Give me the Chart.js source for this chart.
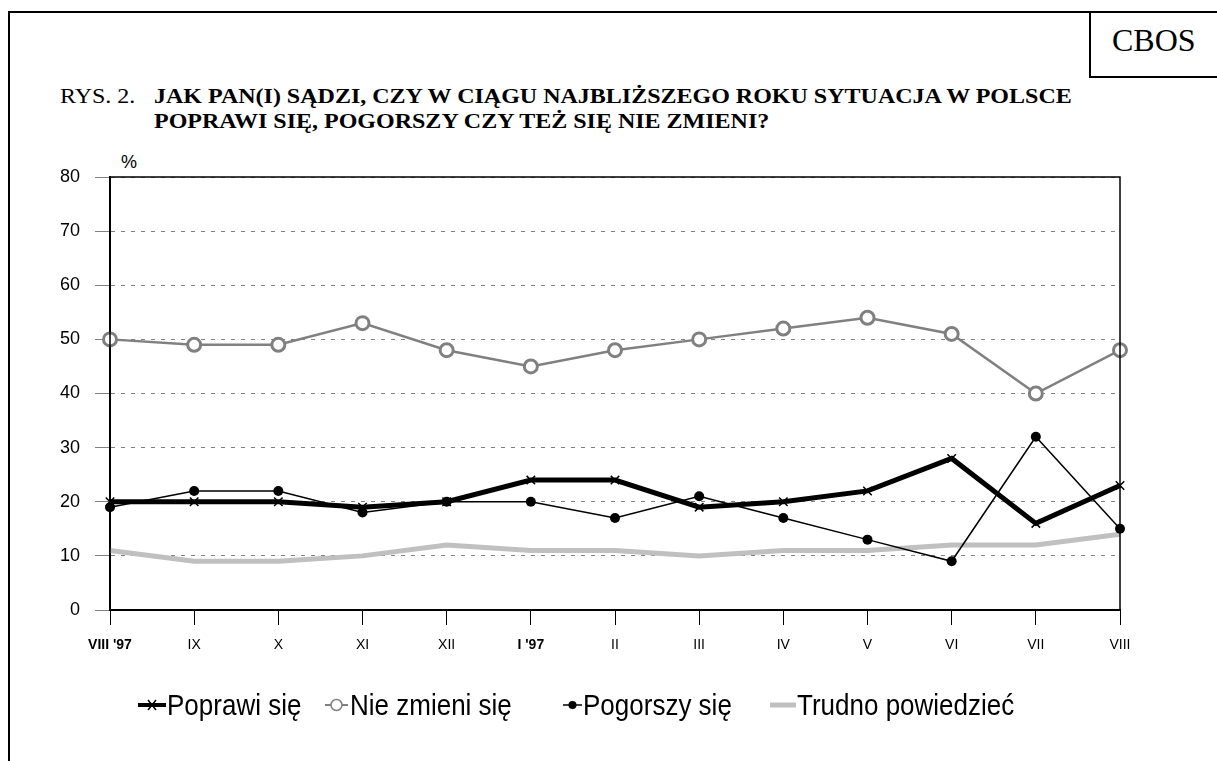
<!DOCTYPE html>
<html><head><meta charset="utf-8">
<script src="https://cdn.jsdelivr.net/npm/chart.js@4.4.1/dist/chart.umd.min.js"></script>
<style>
html,body{margin:0;padding:0;background:#fff;}
#wrap{position:relative;width:1217px;height:761px;overflow:hidden;}
#frameTop{position:absolute;left:8px;top:11px;width:1215px;height:2px;background:#000;}
#frameLeft{position:absolute;left:8px;top:11px;width:2px;height:760px;background:#000;}
#cbos{position:absolute;left:1089px;top:11px;width:140px;height:65px;border-left:2px solid #000;border-bottom:2px solid #000;}
#cbosTxt{position:absolute;left:1112px;top:24px;font-family:"Liberation Serif","Times New Roman",serif;font-size:32px;line-height:32px;color:#000;}
.title{position:absolute;font-family:"Liberation Serif","Times New Roman",serif;font-size:24px;line-height:30px;color:#000;white-space:nowrap;transform-origin:left top;transform:scaleY(0.85);}
.title b{font-weight:bold;}
#pct{position:absolute;left:121px;top:153px;font-family:"Liberation Sans",Arial,sans-serif;font-size:18px;line-height:18px;}
canvas{position:absolute;left:0;top:0;}
.leg{position:absolute;top:691px;height:30px;font-family:"Liberation Sans",Arial,sans-serif;font-size:26px;line-height:26px;white-space:nowrap;}
.leg svg{position:absolute;left:0;top:2px;}
.leg span{display:inline-block;transform-origin:left top;transform:scaleY(1.1);}
</style></head>
<body><div id="wrap">
<div id="frameTop"></div><div id="frameLeft"></div>
<div id="cbos"></div><div id="cbosTxt">CBOS</div>
<div class="title" style="left:60px;top:83px">RYS. 2.</div>
<div class="title" style="left:154px;top:83px"><b>JAK PAN(I) SĄDZI, CZY W CIĄGU NAJBLIŻSZEGO ROKU SYTUACJA W POLSCE<br>POPRAWI SIĘ, POGORSZY CZY TEŻ SIĘ NIE ZMIENI?</b></div>
<div id="pct">%</div>
<canvas id="c" width="1217" height="761"></canvas>
<div class="leg" style="left:138px"><svg width="28" height="24"><line x1="0" y1="12" x2="28" y2="12" stroke="#000" stroke-width="4"/><path d="M10 7 L18 17 M18 7 L10 17" stroke="#000" stroke-width="1.5"/></svg><span style="margin-left:29px">Poprawi się</span></div>
<div class="leg" style="left:325px"><svg width="23" height="24"><line x1="0" y1="12" x2="23" y2="12" stroke="#808080" stroke-width="2"/><circle cx="11.5" cy="12" r="5.5" fill="#fff" stroke="#808080" stroke-width="1.5"/></svg><span style="margin-left:25px">Nie zmieni się</span></div>
<div class="leg" style="left:563px"><svg width="19" height="24"><line x1="0" y1="12" x2="19" y2="12" stroke="#000" stroke-width="1.5"/><circle cx="9.5" cy="12" r="4" fill="#000"/></svg><span style="margin-left:20px">Pogorszy się</span></div>
<div class="leg" style="left:770px"><svg width="26" height="24"><line x1="0" y1="12" x2="26" y2="12" stroke="#c0c0c0" stroke-width="5"/></svg><span style="margin-left:27px">Trudno powiedzieć</span></div>
</div>
<script>
const categories = ["VIII '97","IX","X","XI","XII","I '97","II","III","IV","V","VI","VII","VIII"];
const boldLabels = ["VIII '97","I '97"];
const poprawi = [20,20,20,19,20,24,24,19,20,22,28,16,23];
const nieZmieni = [50,49,49,53,48,45,48,50,52,54,51,40,48];
const pogorszy = [19,22,22,18,20,20,17,21,17,13,9,32,15];
const trudno = [11,9,9,10,12,11,11,10,11,11,12,12,14];
const yTicks = [0,10,20,30,40,50,60,70,80];

const boxPlugin = {
  id:'box',
  afterDraw(chart){
    const a = chart.chartArea, ctx = chart.ctx;
    ctx.save();
    ctx.setLineDash([]);
    ctx.strokeStyle = '#000'; ctx.lineWidth = 1.5;
    ctx.strokeRect(a.left, a.top, a.right-a.left, a.bottom-a.top);
    ctx.restore();
  }
};

new Chart(document.getElementById('c'), {
  type:'line',
  data:{
    labels:categories,
    datasets:[
      {label:'Pogorszy się', data:pogorszy, borderColor:'#000', borderWidth:1.5, pointStyle:'circle', pointRadius:5, pointBackgroundColor:'#000', pointBorderColor:'#000', pointBorderWidth:0, tension:0},
      {label:'Poprawi się', data:poprawi, borderColor:'#000', borderWidth:5, pointStyle:'crossRot', pointRadius:6, pointBorderColor:'#000', pointBorderWidth:1.5, tension:0},
      {label:'Nie zmieni się', data:nieZmieni, borderColor:'#808080', borderWidth:2.5, pointStyle:'circle', pointRadius:6.5, pointBackgroundColor:'#fff', pointBorderColor:'#808080', pointBorderWidth:3, tension:0},
      {label:'Trudno powiedzieć', data:trudno, borderColor:'#c0c0c0', borderWidth:5, pointRadius:0, tension:0}
    ]
  },
  options:{
    responsive:false, animation:false,
    layout:{padding:{left:50, right:97, top:177, bottom:101}},
    plugins:{legend:{display:false}, tooltip:{enabled:false}},
    scales:{
      x:{
        afterFit(s){ s.height = 50; },
        grid:{drawOnChartArea:false, drawTicks:true, tickLength:15, color:'#000', lineWidth:1},
        border:{display:true, color:'#000', width:2},
        ticks:{color:'#000', padding:12, maxRotation:0, autoSkip:false,
          font:(c)=>({family:'"Liberation Sans", Arial, sans-serif', size:14, weight: boldLabels.includes(categories[c.index]) ? 'bold' : 'normal'})}
      },
      y:{
        min:0, max:80,
        afterFit(s){ s.width = 60; },
        afterBuildTicks(s){ s.ticks = yTicks.map(v=>({value:v})); },
        grid:{color:'#808080', lineWidth:1, tickLength:15, tickColor:'#808080', tickBorderDash:[0,0]},
        border:{display:true, color:'#000', width:2, dash:[4,6]},
        ticks:{color:'#000', padding:15, font:{family:'"Liberation Sans", Arial, sans-serif', size:18}}
      }
    }
  },
  plugins:[boxPlugin]
});
</script>
</body></html>
